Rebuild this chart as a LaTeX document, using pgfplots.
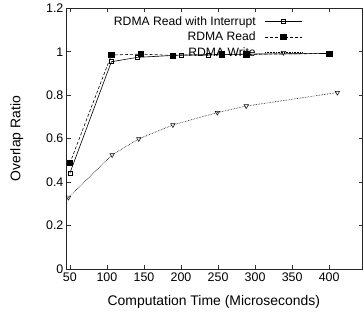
\documentclass[border=0pt]{standalone}
\usepackage{fontspec}
\setmainfont{Liberation Sans}
\usepackage{pgfplots}
\pgfplotsset{compat=1.18}
\begin{document}
\begin{tikzpicture}
\begin{axis}[
  at={(0,0)}, anchor=south west,
  scale only axis, width=296bp, height=261bp,
  xmin=46, xmax=445, ymin=0, ymax=1.2,
  xtick={50,100,150,200,250,300,350,400},
  ytick={0,0.2,0.4,0.6,0.8,1,1.2},
  tick align=inside,
  major tick length=4bp,
  axis line style={line width=0.9pt, black!85},
  every tick/.style={black!80, line width=0.6pt},
  /pgf/number format/assume math mode=true,
  tick label style={font=\fontsize{12.5}{14}\selectfont},
  label style={font=\fontsize{14}{16}\selectfont},
  xlabel={Computation Time (Microseconds)},
  ylabel={Overlap Ratio},
  xlabel style={at={(axis description cs:0.497,-0.125)}, anchor=center},
  ylabel style={at={(axis description cs:-0.170,0.5)}, anchor=center},
  legend style={at={(axis description cs:0.796,0.978)}, anchor=north east,
    draw=none, fill=none, font=\fontsize{12.2}{14}\selectfont,
    row sep=1.4bp, column sep=7bp, inner sep=0pt},
  legend cell align=right,
  legend plot pos=right,
  legend image code/.code={%
    \draw[mark repeat=2,mark phase=2,#1] plot coordinates {(0cm,0cm) (0.65cm,0cm) (1.3cm,0cm)};},
]
% RDMA Read with interrupt-driven completion
\addplot[black, line width=0.6pt, mark=square, mark size=2bp,
  mark options={solid, line width=0.5pt, fill=white}]
  coordinates {(50,0.441) (106,0.954) (141,0.974) (200,0.985) (237,0.985) (288,0.989) (400,0.992)};
\addlegendentry{RDMA Read with Interrupt}
% RDMA Read with polling
\addplot[black, line width=0.6pt, densely dashed, mark=square*, mark size=2.6bp,
  mark options={solid}]
  coordinates {(50,0.487) (106,0.985) (146,0.989) (189,0.983) (255,0.988) (288,0.988) (400,0.992)};
\addlegendentry{RDMA Read}
% RDMA Write
\addplot[black, line width=0.6pt, densely dotted, mark=triangle, mark size=2.6bp,
  mark options={solid, rotate=180, line width=0.5pt, fill=white}]
  coordinates {(48,0.329) (107,0.525) (143,0.599) (189,0.663) (249,0.720) (288,0.750) (411,0.812)};
\addlegendentry{RDMA Write}
\end{axis}
\useasboundingbox (-67bp,-54.7bp) rectangle (296bp,269.3bp);
\end{tikzpicture}
\end{document}
